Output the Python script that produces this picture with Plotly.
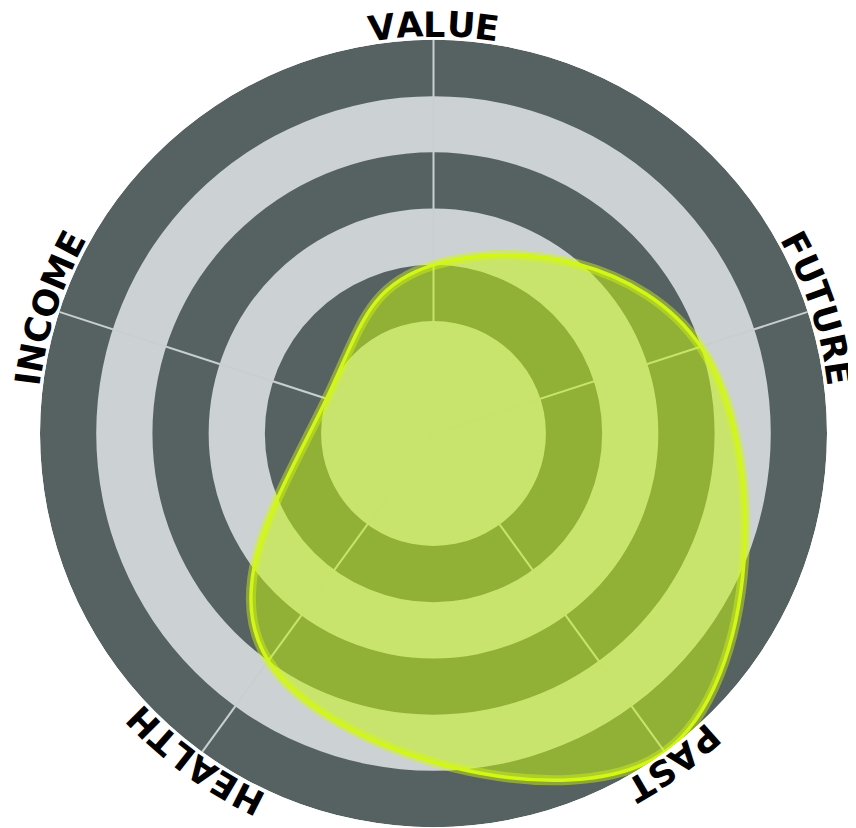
import math
import plotly.graph_objects as go

# ---- data ----
categories = ["VALUE", "FUTURE", "PAST", "HEALTH", "INCOME"]
values = [3, 5, 7, 5, 2]
band_outer = [7, 6, 5, 4, 3, 2]
band_colors = ["#566262", "#ccd1d4", "#566262", "#ccd1d4", "#566262", "#ccd1d4"]
r_max = 7

# ---- layout geometry (page body adds an 8px offset) ----
W, H = 848, 820
ML, MR, MT, MB = 32, 29, 32, 1
PW, PH = W - ML - MR, H - MT - MB

n = len(categories)
thetas = [i * 360.0 / n for i in range(n)]

fig = go.Figure()

# background bands
fig.add_trace(go.Barpolar(
    r=band_outer, theta=[0] * len(band_outer), width=[360] * len(band_outer),
    marker=dict(color=band_colors, line=dict(width=0)),
    hoverinfo="skip", showlegend=False,
))

# spokes
for t in thetas:
    fig.add_trace(go.Scatterpolar(
        r=[0, r_max], theta=[t, t], mode="lines",
        line=dict(color="#c9cfd1", width=2),
        hoverinfo="skip", showlegend=False,
    ))

closed_r = values + [values[0]]
closed_t = thetas + [thetas[0]]
SM = 1.3

# fill
fig.add_trace(go.Scatterpolar(
    r=closed_r, theta=closed_t, mode="lines", fill="toself",
    fillcolor="rgba(198,245,15,0.53)",
    line=dict(color="rgba(0,0,0,0)", width=0, shape="spline", smoothing=SM),
    hoverinfo="skip", showlegend=False,
))
# glow
fig.add_trace(go.Scatterpolar(
    r=closed_r, theta=closed_t, mode="lines",
    line=dict(color="rgba(210,248,20,0.45)", width=10, shape="spline", smoothing=SM),
    hoverinfo="skip", showlegend=False,
))
# core outline
fig.add_trace(go.Scatterpolar(
    r=closed_r, theta=closed_t, mode="lines",
    line=dict(color="#d2f716", width=3.5, shape="spline", smoothing=SM),
    hoverinfo="skip", showlegend=False,
))

# curved labels (letter by letter along the arc)
adv = {"A": .774, "C": .734, "E": .683, "F": .683, "H": .837, "I": .372,
       "L": .637, "M": .995, "N": .837, "O": .850, "P": .733, "R": .770,
       "S": .720, "T": .682, "U": .812, "V": .774}
fs = 35
R_c = 409.0
R_b = 397.0
annotations = []
for label, t in zip(categories, thetas):
    widths = [adv.get(ch, 0.7) * fs for ch in label]
    total = sum(widths)
    cum = 0.0
    for ch, w in zip(label, widths):
        off = cum + w / 2 - total / 2
        cum += w
        ang = t + math.degrees(off / R_b)
        a = math.radians(ang)
        x = 0.5 + R_c * math.sin(a) / PW
        y = 0.5 + R_c * math.cos(a) / PH
        annotations.append(dict(
            x=x, y=y, xref="paper", yref="paper", text=ch, showarrow=False,
            xanchor="center", yanchor="middle", textangle=ang,
            font=dict(family="DejaVu Sans", size=fs, color="#000000", weight="bold"),
        ))

fig.update_layout(
    width=W, height=H,
    margin=dict(l=ML, r=MR, t=MT, b=MB, pad=0),
    paper_bgcolor="white", plot_bgcolor="white",
    showlegend=False,
    polar=dict(
        domain=dict(x=[0, 1], y=[0, 1]),
        bgcolor="rgba(0,0,0,0)",
        barmode="overlay",
        radialaxis=dict(range=[0, r_max], visible=False),
        angularaxis=dict(rotation=90, direction="clockwise", showgrid=False,
                         showline=False, showticklabels=False, ticks=""),
    ),
    annotations=annotations,
)

fig.write_html("out.html")
